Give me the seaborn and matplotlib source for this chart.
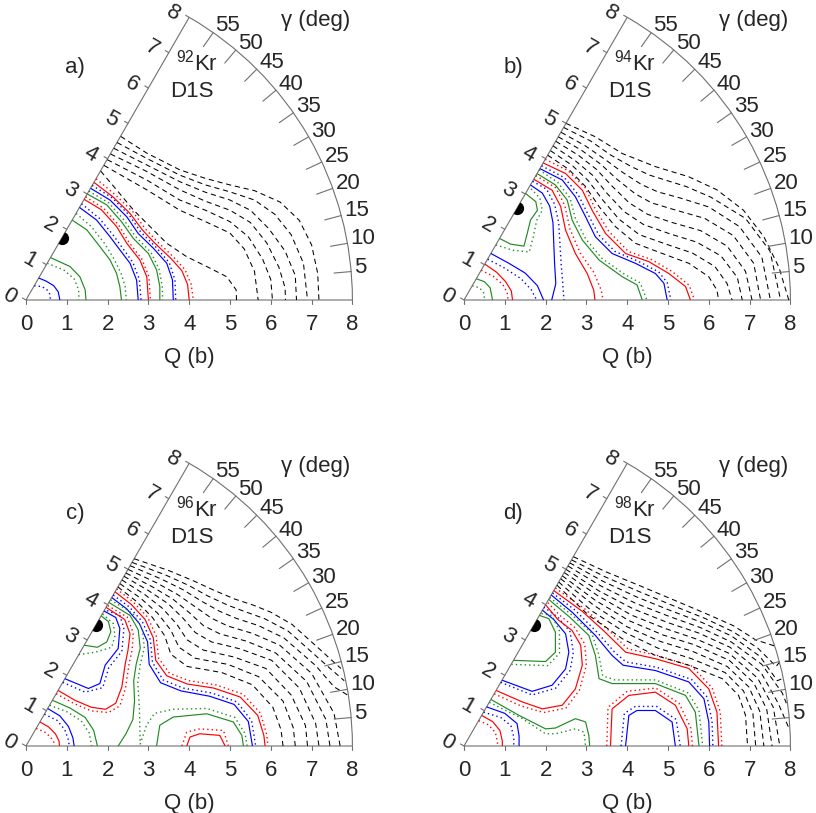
"""
Potential energy surfaces of 92-98Kr (Gogny D1S) in the (Q, gamma) plane.
Contour lines are stored as (Q0, Q2) points, Q0 = Q cos(gamma), Q2 = Q sin(gamma).
"""

import numpy as np
import matplotlib
matplotlib.use("Agg")
import matplotlib.pyplot as plt
import seaborn as sns
from matplotlib.patches import Wedge

sns.set_style("white")
plt.rcParams["font.family"] = ["Liberation Sans", "DejaVu Sans"]
plt.rcParams["mathtext.fontset"] = "custom"
plt.rcParams["mathtext.rm"] = "Liberation Sans"
plt.rcParams["font.size"] = 16

W, H = 816, 813
UNIT = 40.8                      # pixels per barn
S60, C60 = np.sin(np.pi / 3), np.cos(np.pi / 3)
FRAME = "#707070"
COLORS = {"blue": "#0000ff", "red": "#ff0000", "green": "#228b22", "black": "#000000"}

GAMMA_TICKS = list(range(5, 60, 5))
Q_TICKS = list(range(0, 9))

# ---------------------------------------------------------------------------
# 92Kr
# ---------------------------------------------------------------------------
KR92_MIN = 1.75
KR92_BLUE = [
    [(0.31, 0.54), (0.5, 0.46), (0.68, 0.35), (0.79, 0.2), (0.83, 0.0)],
    [(1.31, 2.27), (1.73, 1.96), (2.06, 1.55), (2.30, 1.23), (2.55, 0.90), (2.71, 0.49), (2.75, 0.0)],
    [(1.58, 2.74), (2.06, 2.45), (2.47, 2.04), (2.75, 1.63), (3.12, 1.27), (3.45, 0.90), (3.59, 0.49), (3.61, 0.0)],
]
KR92_BLUE_DOT = [
    [(0.2, 0.35), (0.38, 0.33), (0.5, 0.27), (0.58, 0.15), (0.6, 0.0)],
    [(1.36, 2.36), (1.8, 2.0), (2.13, 1.6), (2.37, 1.27), (2.62, 0.92), (2.78, 0.5), (2.82, 0.0)],
    [(1.62, 2.81), (2.12, 2.5), (2.53, 2.08), (2.81, 1.67), (3.18, 1.3), (3.51, 0.92), (3.65, 0.5), (3.67, 0.0)],
]
KR92_RED = [
    [(1.42, 2.47), (1.85, 2.21), (2.22, 1.80), (2.47, 1.39), (2.79, 0.98), (2.96, 0.57), (3.0, 0.0)],
    [(1.67, 2.88), (2.14, 2.52), (2.55, 2.12), (2.85, 1.72), (3.15, 1.40), (3.55, 1.02), (3.82, 0.72), (3.96, 0.38), (4.0, 0.0)],
]
KR92_RED_DOT = [
    [(1.46, 2.53), (1.9, 2.25), (2.27, 1.84), (2.52, 1.42), (2.84, 1.0), (3.01, 0.58), (3.05, 0.0)],
    [(1.72, 2.97), (2.2, 2.57), (2.62, 2.16), (2.92, 1.75), (3.22, 1.43), (3.62, 1.05), (3.9, 0.74), (4.05, 0.38), (4.1, 0.0)],
]
KR92_GREEN = [
    [(0.6, 1.04), (1.08, 0.82), (1.32, 0.57), (1.45, 0.25), (1.47, 0.0)],
    [(1.13, 1.96), (1.49, 1.72), (1.81, 1.31), (2.06, 0.98), (2.22, 0.65), (2.30, 0.33), (2.34, 0.0)],
    [(1.50, 2.60), (1.98, 2.33), (2.34, 1.92), (2.63, 1.51), (3.0, 1.14), (3.20, 0.74), (3.28, 0.33), (3.28, 0.0)],
]
KR92_GREEN_DOT = [
    [(0.52, 0.9), (0.92, 0.74), (1.18, 0.52), (1.29, 0.25), (1.3, 0.0)],
    [(1.23, 2.12), (1.6, 1.8), (1.93, 1.38), (2.16, 1.0), (2.33, 0.65), (2.43, 0.33), (2.46, 0.0)],
    [(1.54, 2.67), (2.03, 2.38), (2.4, 1.96), (2.69, 1.55), (3.06, 1.17), (3.26, 0.76), (3.34, 0.34), (3.35, 0.0)],
]
KR92_DASH = [
    [(1.83, 3.16), (2.22, 2.70), (2.63, 2.21), (3.04, 1.80), (3.45, 1.39), (3.94, 1.06), (4.43, 0.82), (4.92, 0.57), (5.15, 0.25), (5.16, 0.0)],
    [(1.91, 3.30), (2.96, 2.7), (3.77, 2.2), (4.4, 1.92), (5.0, 1.64), (5.35, 1.25), (5.6, 0.7), (5.69, 0.0)],
    [(1.99, 3.44), (2.96, 2.94), (3.77, 2.45), (4.4, 2.2), (5.0, 1.92), (5.45, 1.55), (5.8, 1.0), (6.0, 0.5), (6.04, 0.0)],
    [(2.07, 3.58), (2.96, 3.15), (3.77, 2.7), (4.4, 2.42), (5.0, 2.2), (5.5, 1.9), (5.9, 1.4), (6.2, 0.8), (6.35, 0.3), (6.36, 0.0)],
    [(2.15, 3.72), (2.96, 3.31), (3.77, 2.9), (4.4, 2.64), (5.0, 2.45), (5.5, 2.2), (5.95, 1.75), (6.35, 1.2), (6.6, 0.6), (6.63, 0.0)],
    [(2.23, 3.86), (2.96, 3.47), (3.77, 3.06), (4.4, 2.82), (5.0, 2.65), (5.6, 2.45), (6.1, 2.1), (6.5, 1.6), (6.8, 0.9), (6.9, 0.0)],
    [(2.32, 4.01), (2.96, 3.6), (3.77, 3.19), (4.4, 2.98), (5.0, 2.82), (5.6, 2.68), (6.23, 2.4), (6.7, 1.95), (7.0, 1.35), (7.15, 0.65), (7.18, 0.0)],
]

# ---------------------------------------------------------------------------
# 94Kr
# ---------------------------------------------------------------------------
KR94_MIN = 2.6
KR94_BLUE = [
    [(0.66, 1.14), (1.1, 0.9), (1.5, 0.66), (1.8, 0.35), (1.95, 0.0)],
    [(1.63, 2.82), (1.92, 2.62), (2.1, 2.3), (2.18, 1.9), (2.2, 1.4), (2.22, 0.9), (2.25, 0.4), (2.15, 0.0)],
    [(1.86, 3.22), (2.41, 2.94), (2.73, 2.53), (2.98, 2.04), (3.22, 1.55), (3.63, 1.14), (4.2, 0.9), (4.69, 0.65), (4.9, 0.41), (4.98, 0.0)],
]
KR94_BLUE_DOT = [
    [(0.58, 1.0), (1.0, 0.78), (1.4, 0.52), (1.65, 0.25), (1.78, 0.0)],
    [(1.68, 2.91), (2.02, 2.72), (2.22, 2.35), (2.32, 1.9), (2.35, 1.4), (2.38, 0.9), (2.42, 0.4), (2.45, 0.0)],
    [(1.9, 3.29), (2.46, 3.0), (2.8, 2.58), (3.05, 2.08), (3.3, 1.6), (3.7, 1.19), (4.27, 0.95), (4.77, 0.69), (4.98, 0.43), (5.07, 0.0)],
]
KR94_RED = [
    [(0.51, 0.88), (0.8, 0.68), (1.02, 0.45), (1.16, 0.22), (1.19, 0.0)],
    [(1.71, 2.96), (2.16, 2.69), (2.37, 2.29), (2.49, 1.71), (2.73, 1.14), (3.02, 0.65), (3.18, 0.24), (3.21, 0.0)],
    [(1.94, 3.36), (2.49, 3.1), (2.9, 2.69), (3.14, 2.2), (3.47, 1.63), (3.96, 1.14), (4.53, 0.94), (5.02, 0.65), (5.43, 0.33), (5.55, 0.0)],
]
KR94_RED_DOT = [
    [(0.42, 0.73), (0.72, 0.58), (0.95, 0.38), (1.06, 0.18), (1.08, 0.0)],
    [(1.76, 3.05), (2.25, 2.75), (2.47, 2.32), (2.6, 1.73), (2.85, 1.15), (3.18, 0.68), (3.36, 0.25), (3.41, 0.0)],
    [(1.99, 3.45), (2.55, 3.17), (2.97, 2.75), (3.21, 2.25), (3.55, 1.68), (4.03, 1.19), (4.6, 0.99), (5.1, 0.7), (5.52, 0.36), (5.65, 0.0)],
]
KR94_GREEN = [
    [(0.3, 0.52), (0.5, 0.45), (0.64, 0.3), (0.7, 0.0)],
    [(0.87, 1.51), (1.14, 1.37), (1.47, 1.32), (1.55, 1.63), (1.63, 1.96), (1.8, 2.2), (1.76, 2.41), (1.51, 2.61)],
    [(1.79, 3.1), (2.24, 2.82), (2.53, 2.45), (2.65, 1.96), (2.9, 1.47), (3.31, 0.98), (3.88, 0.57), (4.24, 0.37), (4.37, 0.0)],
]
KR94_GREEN_DOT = [
    [(0.2, 0.35), (0.38, 0.3), (0.48, 0.18), (0.51, 0.0)],
    [(0.78, 1.35), (1.2, 1.22), (1.6, 1.18), (1.7, 1.55), (1.78, 1.95), (1.92, 2.2), (1.86, 2.5), (1.6, 2.77)],
    [(1.84, 3.19), (2.3, 2.88), (2.6, 2.5), (2.73, 2.0), (2.98, 1.5), (3.38, 1.02), (3.95, 0.62), (4.32, 0.42), (4.48, 0.0)],
]
KR94_DASH = [
    [(2.05, 3.55), (2.57, 3.2), (2.98, 2.78), (3.31, 2.29), (3.71, 1.8), (4.2, 1.39), (4.86, 1.14), (5.51, 0.9), (6.0, 0.57), (6.2, 0.24), (6.24, 0.0)],
    [(2.12, 3.66), (2.65, 3.3), (3.05, 2.92), (3.4, 2.45), (3.8, 1.98), (4.3, 1.6), (4.95, 1.37), (5.6, 1.15), (6.15, 0.82), (6.45, 0.4), (6.57, 0.0)],
    [(2.18, 3.78), (2.72, 3.42), (3.15, 3.06), (3.5, 2.62), (3.92, 2.17), (4.4, 1.85), (5.05, 1.62), (5.7, 1.42), (6.3, 1.08), (6.7, 0.55), (6.82, 0.0)],
    [(2.25, 3.89), (2.8, 3.55), (3.25, 3.2), (3.62, 2.8), (4.05, 2.38), (4.5, 2.1), (5.1, 1.9), (5.8, 1.7), (6.45, 1.32), (6.9, 0.7), (7.06, 0.0)],
    [(2.31, 4.0), (2.88, 3.67), (3.35, 3.33), (3.75, 2.96), (4.2, 2.6), (4.6, 2.38), (5.2, 2.2), (5.9, 2.0), (6.6, 1.58), (7.1, 0.9), (7.27, 0.0)],
    [(2.38, 4.11), (2.97, 3.78), (3.45, 3.45), (3.9, 3.12), (4.35, 2.83), (4.75, 2.65), (5.3, 2.5), (6.0, 2.28), (6.75, 1.8), (7.3, 1.05), (7.51, 0.0)],
    [(2.44, 4.23), (3.1, 3.9), (3.6, 3.55), (4.1, 3.27), (4.55, 3.06), (5.0, 2.92), (5.45, 2.78), (6.05, 2.52), (6.9, 2.0), (7.5, 1.2), (7.76, 0.0)],
    [(2.5, 4.33), (3.22, 4.0), (3.88, 3.59), (4.69, 3.27), (5.51, 3.02), (6.2, 2.7), (6.85, 2.2), (7.35, 1.55), (7.72, 0.8), (7.96, 0.0)],
]

# ---------------------------------------------------------------------------
# 96Kr
# ---------------------------------------------------------------------------
KR96_MIN = 3.42
KR96_BLUE = [
    [(0.53, 0.92), (0.83, 0.74), (1.04, 0.48), (1.15, 0.2), (1.18, 0.0)],
    [(0.95, 1.65), (1.53, 1.41), (1.81, 1.53), (1.94, 1.98), (2.26, 2.39), (2.3, 2.88), (2.2, 3.15), (1.91, 3.31)],
    [(2.1, 3.64), (2.47, 3.36), (2.78, 3.0), (2.98, 2.55), (3.02, 2.0), (3.3, 1.55), (3.8, 1.35), (4.5, 1.22), (5.1, 1.02), (5.45, 0.6), (5.55, 0.0)],
]
KR96_BLUE_DOT = [
    [(0.45, 0.78), (0.76, 0.63), (0.95, 0.4), (1.04, 0.15), (1.06, 0.0)],
    [(0.9, 1.56), (1.45, 1.32), (1.88, 1.43), (2.03, 1.92), (2.35, 2.32), (2.4, 2.88), (2.3, 3.2), (1.93, 3.34)],
    [(2.14, 3.7), (2.53, 3.41), (2.85, 3.05), (3.05, 2.6), (3.1, 2.05), (3.36, 1.62), (3.85, 1.42), (4.55, 1.3), (5.17, 1.08), (5.53, 0.62), (5.63, 0.0)],
]
KR96_RED = [
    [(0.34, 0.59), (0.55, 0.47), (0.72, 0.3), (0.81, 0.12), (0.82, 0.0)],
    [(0.79, 1.36), (1.2, 1.12), (1.6, 0.95), (1.95, 0.9), (2.2, 1.05), (2.35, 1.45), (2.43, 2.0), (2.5, 2.35), (2.55, 2.75), (2.42, 3.1), (1.96, 3.4)],
    [(2.18, 3.78), (2.58, 3.47), (2.92, 3.1), (3.12, 2.65), (3.18, 2.1), (3.45, 1.72), (3.95, 1.52), (4.6, 1.42), (5.25, 1.2), (5.68, 0.75), (5.83, 0.26), (5.86, 0.0)],
    [(3.94, 0.0), (4.02, 0.22), (4.26, 0.3), (4.75, 0.26), (4.88, 0.0)],
]
KR96_RED_DOT = [
    [(0.25, 0.43), (0.45, 0.35), (0.6, 0.22), (0.68, 0.1), (0.69, 0.0)],
    [(0.74, 1.28), (1.2, 1.03), (1.6, 0.86), (2.02, 0.82), (2.3, 0.98), (2.44, 1.42), (2.52, 1.98), (2.6, 2.35), (2.63, 2.77), (2.48, 3.16), (1.99, 3.45)],
    [(2.22, 3.85), (2.63, 3.53), (2.98, 3.16), (3.19, 2.7), (3.25, 2.15), (3.52, 1.78), (4.0, 1.6), (4.65, 1.5), (5.32, 1.27), (5.75, 0.8), (5.9, 0.28), (5.93, 0.0)],
    [(3.82, 0.0), (3.94, 0.34), (4.26, 0.42), (4.84, 0.38), (4.96, 0.0)],
]
KR96_GREEN = [
    [(0.65, 1.12), (1.08, 0.93), (1.45, 0.7), (1.66, 0.38), (1.75, 0.0)],
    [(1.43, 2.47), (1.75, 2.42), (1.98, 2.55), (2.08, 2.8), (2.02, 3.05), (1.84, 3.19)],
    [(2.26, 0.0), (2.45, 0.3), (2.62, 0.65), (2.66, 1.1), (2.64, 1.6), (2.7, 2.0), (2.8, 2.4), (2.75, 2.85), (2.55, 3.2), (2.03, 3.52)],
    [(3.2, 0.0), (3.28, 0.51), (3.61, 0.71), (4.43, 0.79), (5.08, 0.59), (5.29, 0.26), (5.33, 0.0)],
]
KR96_GREEN_DOT = [
    [(0.58, 1.0), (1.0, 0.84), (1.35, 0.62), (1.55, 0.32), (1.61, 0.0)],
    [(1.29, 2.24), (1.7, 2.3), (2.1, 2.42), (2.18, 2.7), (2.14, 3.0), (1.87, 3.24)],
    [(2.07, 3.58), (2.62, 3.25), (2.85, 2.88), (2.9, 2.4), (2.8, 2.0), (2.74, 1.55), (2.78, 0.9), (2.8, 0.05),
     (2.95, 0.5), (3.15, 0.8), (3.6, 0.9), (4.43, 0.92), (5.12, 0.7), (5.37, 0.3), (5.42, 0.0)],
]
KR96_DASH = [
    [(2.25, 3.9), (2.7, 3.55), (3.1, 3.15), (3.4, 2.7), (3.55, 2.25), (3.95, 1.95), (4.8, 1.8), (5.55, 1.5), (6.05, 0.95), (6.25, 0.4), (6.3, 0.0)],
    [(2.3, 3.98), (2.8, 3.63), (3.22, 3.26), (3.55, 2.84), (3.75, 2.42), (4.15, 2.15), (4.95, 2.0), (5.7, 1.7), (6.3, 1.1), (6.55, 0.45), (6.6, 0.0)],
    [(2.35, 4.07), (2.9, 3.72), (3.35, 3.37), (3.7, 2.98), (3.95, 2.6), (4.35, 2.35), (5.1, 2.18), (5.88, 1.9), (6.5, 1.25), (6.85, 0.5), (6.9, 0.0)],
    [(2.4, 4.16), (3.0, 3.81), (3.48, 3.49), (3.85, 3.13), (4.15, 2.78), (4.55, 2.55), (5.25, 2.38), (6.02, 2.1), (6.7, 1.42), (7.1, 0.55), (7.18, 0.0)],
    [(2.45, 4.24), (3.1, 3.9), (3.6, 3.6), (4.0, 3.27), (4.35, 2.95), (4.75, 2.75), (5.4, 2.57), (6.12, 2.28), (6.88, 1.58), (7.35, 0.65), (7.45, 0.0)],
    [(2.5, 4.33), (3.2, 4.0), (3.72, 3.71), (4.15, 3.41), (4.55, 3.13), (4.95, 2.94), (5.55, 2.76), (6.22, 2.47), (7.0, 1.78), (7.55, 0.8), (7.7, 0.0)],
    [(2.55, 4.42), (3.3, 4.1), (3.85, 3.83), (4.3, 3.55), (4.75, 3.3), (5.15, 3.13), (5.7, 2.95), (6.32, 2.65), (7.1, 1.97), (7.55, 1.45), (7.88, 1.25)],
    [(2.6, 4.5), (3.4, 4.2), (3.98, 3.94), (4.45, 3.68), (4.95, 3.45), (5.35, 3.3), (5.85, 3.12), (6.42, 2.82), (7.15, 2.17), (7.5, 1.86), (7.8, 1.6)],
    [(2.65, 4.59), (3.5, 4.3), (4.1, 4.05), (4.6, 3.82), (5.12, 3.6), (5.55, 3.46), (6.0, 3.28), (6.52, 2.98), (7.2, 2.37), (7.55, 2.05), (7.72, 1.9)],
]

# ---------------------------------------------------------------------------
# 98Kr
# ---------------------------------------------------------------------------
KR98_MIN = 3.42
KR98_BLUE = [
    [(0.55, 0.96), (1.0, 0.8), (1.3, 0.55), (1.35, 0.25), (1.35, 0.0)],
    [(0.94, 1.61), (1.67, 1.34), (2.16, 1.49), (2.49, 1.89), (2.57, 2.3), (2.49, 2.75), (2.2, 3.1), (1.92, 3.33)],
    [(2.14, 3.7), (2.65, 3.28), (3.22, 2.71), (3.63, 2.22), (3.9, 1.98), (4.69, 1.85), (5.51, 1.57), (5.88, 1.16), (6.0, 0.59), (6.02, 0.0)],
    [(3.96, 0.0), (4.04, 0.75), (4.24, 0.87), (4.69, 0.87), (5.1, 0.59), (5.18, 0.0)],
]
KR98_BLUE_DOT = [
    [(0.48, 0.83), (0.9, 0.7), (1.15, 0.5), (1.22, 0.22), (1.22, 0.0)],
    [(0.9, 1.56), (1.67, 1.25), (2.25, 1.42), (2.6, 1.85), (2.68, 2.3), (2.6, 2.8), (2.3, 3.16), (1.96, 3.4)],
    [(2.17, 3.75), (2.71, 3.34), (3.28, 2.77), (3.7, 2.29), (3.97, 2.06), (4.72, 1.93), (5.58, 1.63), (5.96, 1.2), (6.08, 0.6), (6.1, 0.0)],
    [(3.85, 0.0), (3.93, 0.8), (4.2, 0.97), (4.72, 0.97), (5.2, 0.65), (5.3, 0.0)],
]
KR98_RED = [
    [(0.43, 0.75), (0.7, 0.6), (0.88, 0.38), (0.94, 0.12), (0.94, 0.0)],
    [(0.79, 1.36), (1.43, 1.08), (1.92, 0.91), (2.41, 1.0), (2.73, 1.4), (2.9, 1.98), (2.86, 2.47), (2.65, 2.83), (2.3, 3.1), (2.0, 3.46)],
    [(2.2, 3.81), (2.9, 3.3), (3.47, 2.78), (3.96, 2.3), (4.69, 2.14), (5.51, 1.9), (6.0, 1.4), (6.2, 0.83), (6.24, 0.0)],
    [(3.59, 0.0), (3.63, 0.91), (4.04, 1.24), (4.69, 1.32), (5.18, 1.0), (5.47, 0.42), (5.51, 0.0)],
]
KR98_RED_DOT = [
    [(0.36, 0.62), (0.6, 0.52), (0.77, 0.33), (0.82, 0.1), (0.82, 0.0)],
    [(0.74, 1.28), (1.4, 0.98), (1.95, 0.82), (2.5, 0.93), (2.83, 1.37), (3.0, 1.98), (2.96, 2.5), (2.72, 2.9), (2.35, 3.2), (2.04, 3.53)],
    [(2.24, 3.87), (2.95, 3.37), (3.53, 2.85), (4.02, 2.38), (4.74, 2.22), (5.58, 1.96), (6.08, 1.43), (6.28, 0.84), (6.32, 0.0)],
    [(3.5, 0.0), (3.53, 0.95), (4.0, 1.34), (4.7, 1.42), (5.27, 1.05), (5.56, 0.44), (5.6, 0.0)],
]
KR98_GREEN = [
    [(0.66, 1.14), (1.35, 0.75), (2.0, 0.42), (2.24, 0.44), (2.73, 0.67), (2.98, 0.59), (3.06, 0.26), (3.08, 0.0)],
    [(1.21, 2.1), (2.0, 2.07), (2.24, 2.3), (2.24, 2.79), (2.08, 3.12), (1.85, 3.2)],
    [(2.08, 3.59), (2.6, 3.15), (3.06, 2.71), (3.22, 2.22), (3.31, 1.65), (3.63, 1.53), (4.69, 1.53), (5.43, 1.24), (5.67, 0.83), (5.76, 0.0)],
]
KR98_GREEN_DOT = [
    [(0.62, 1.07), (1.43, 0.67), (2.0, 0.3), (2.24, 0.3), (2.73, 0.42), (2.94, 0.34), (2.98, 0.0)],
    [(1.16, 2.0), (2.05, 1.97), (2.34, 2.27), (2.34, 2.82), (2.15, 3.2), (1.88, 3.25)],
    [(2.1, 3.64), (2.66, 3.2), (3.13, 2.77), (3.3, 2.25), (3.4, 1.72), (3.7, 1.62), (4.69, 1.62), (5.5, 1.3), (5.76, 0.87), (5.85, 0.0)],
]
KR98_DASH = [
    [(2.28, 3.94), (3.06, 3.2), (3.88, 2.63), (4.69, 2.22), (5.51, 1.98), (6.33, 1.65), (6.73, 1.24), (6.9, 0.75), (6.95, 0.0)],
    [(2.32, 4.02), (3.12, 3.32), (3.95, 2.78), (4.75, 2.4), (5.55, 2.15), (6.4, 1.8), (6.85, 1.35), (7.08, 0.8), (7.15, 0.0)],
    [(2.37, 4.1), (3.18, 3.45), (4.0, 2.92), (4.82, 2.56), (5.6, 2.32), (6.45, 1.95), (6.98, 1.45), (7.25, 0.85), (7.35, 0.0)],
    [(2.41, 4.17), (3.22, 3.57), (4.05, 3.07), (4.88, 2.72), (5.65, 2.48), (6.5, 2.1), (7.1, 1.55), (7.42, 0.9), (7.55, 0.0)],
    [(2.46, 4.25), (3.27, 3.69), (4.1, 3.21), (4.93, 2.88), (5.7, 2.62), (6.5, 2.27), (7.2, 1.66), (7.58, 0.95), (7.74, 0.0)],
    [(2.5, 4.33), (3.31, 3.8), (4.15, 3.36), (4.98, 3.03), (5.75, 2.77), (6.52, 2.42), (7.28, 1.8), (7.7, 1.05), (7.98, 0.4)],
    [(2.55, 4.41), (3.36, 3.92), (4.2, 3.5), (5.02, 3.18), (5.8, 2.9), (6.55, 2.55), (7.3, 2.0), (7.8, 1.3), (7.9, 1.05)],
    [(2.59, 4.49), (3.4, 4.04), (4.24, 3.65), (5.06, 3.32), (5.85, 3.02), (6.55, 2.7), (7.25, 2.2), (7.68, 1.6), (7.82, 1.66)],
    [(2.64, 4.56), (3.45, 4.15), (4.28, 3.79), (5.1, 3.45), (5.9, 3.13), (6.6, 2.8), (7.2, 2.4), (7.65, 1.95), (7.73, 2.05)],
    [(2.68, 4.64), (3.5, 4.26), (4.33, 3.92), (5.14, 3.58), (5.92, 3.25), (6.6, 2.95), (7.15, 2.6), (7.62, 2.45)],
]

PANELS = [
    ("a)", 92, (26, 300), KR92_MIN, [KR92_BLUE, KR92_BLUE_DOT, KR92_RED, KR92_RED_DOT, KR92_GREEN, KR92_GREEN_DOT, KR92_DASH]),
    ("b)", 94, (464, 300), KR94_MIN, [KR94_BLUE, KR94_BLUE_DOT, KR94_RED, KR94_RED_DOT, KR94_GREEN, KR94_GREEN_DOT, KR94_DASH]),
    ("c)", 96, (26, 746), KR96_MIN, [KR96_BLUE, KR96_BLUE_DOT, KR96_RED, KR96_RED_DOT, KR96_GREEN, KR96_GREEN_DOT, KR96_DASH]),
    ("d)", 98, (464, 746), KR98_MIN, [KR98_BLUE, KR98_BLUE_DOT, KR98_RED, KR98_RED_DOT, KR98_GREEN, KR98_GREEN_DOT, KR98_DASH]),
]
# order of the line groups inside each panel entry
GROUP_STYLE = [("blue", "solid"), ("blue", "dot"), ("red", "solid"), ("red", "dot"),
               ("green", "solid"), ("green", "dot"), ("black", "dash")]
LINE_KW = {
    "solid": dict(lw=0.85, linestyle="-"),
    "dot": dict(lw=1.0, linestyle=(0, (1.0, 2.2))),
    "dash": dict(lw=0.75, linestyle=(0, (5.0, 3.6))),
}


def draw_frame(ax):
    ax.add_patch(Wedge((0, 0), 8, 0, 60, fill=False, ec=FRAME, lw=0.8, clip_on=False))
    for g in GAMMA_TICKS:
        t = np.deg2rad(g)
        ax.plot([7.58 * np.cos(t), 8 * np.cos(t)], [7.58 * np.sin(t), 8 * np.sin(t)],
                color=FRAME, lw=0.8, clip_on=False)
        ax.text(8.08 * np.cos(t), 8.08 * np.sin(t) + 0.1, str(g), ha="left", va="center")
    nx, ny = -S60, C60          # outward normal of the gamma = 60 edge
    for q in Q_TICKS:
        ax.plot([q, q], [0, -0.1], color=FRAME, lw=0.8, clip_on=False)
        ax.text(q, -0.6, str(q), ha="center", va="center")
        px, py = q * C60, q * S60
        ax.plot([px, px + 0.1 * nx], [py, py + 0.1 * ny], color=FRAME, lw=0.8, clip_on=False)
        lx = px + 0.4 * nx - 0.12 * C60
        ly = py + 0.4 * ny - 0.12 * S60
        ax.text(lx, ly, str(q), rotation=-30, rotation_mode="anchor", ha="center", va="center")
    ax.text(4.0, -1.42, "Q (b)", ha="center", va="center")
    ax.text(7.1, 6.84, "γ (deg)", ha="center", va="center")


def draw_panel(fig, letter, mass, origin, qmin, groups):
    x0, y0 = origin
    ax = fig.add_axes([x0 / W, (H - y0) / H, 8 * UNIT / W, 8 * S60 * UNIT / H])
    clip = Wedge((0, 0), 8, 0, 60)
    clip.set_transform(ax.transData)

    for lines, (color, style) in zip(groups, GROUP_STYLE):
        for line in lines:
            pts = np.array(line)
            sns.lineplot(x=pts[:, 0], y=pts[:, 1], sort=False, estimator=None,
                         color=COLORS[color], ax=ax, **LINE_KW[style])
            ax.lines[-1].set_clip_path(clip)

    mk, = ax.plot([qmin * C60], [qmin * S60], "o", color="k", ms=9.5, mew=0)
    mk.set_clip_path(clip)

    draw_frame(ax)
    ax.text(1.2, 5.71, letter, ha="center", va="center")
    ax.text(4.18, 5.83, rf"$^{{{mass}}}$Kr", ha="center", va="center")
    ax.text(4.07, 5.12, "D1S", ha="center", va="center")

    ax.set_xlim(0, 8)
    ax.set_ylim(0, 8 * S60)
    ax.axis("off")


def main():
    fig = plt.figure(figsize=(W / 100, H / 100), dpi=100)
    for letter, mass, origin, qmin, groups in PANELS:
        draw_panel(fig, letter, mass, origin, qmin, groups)
    fig.savefig("out.png", dpi=100)


if __name__ == "__main__":
    main()
